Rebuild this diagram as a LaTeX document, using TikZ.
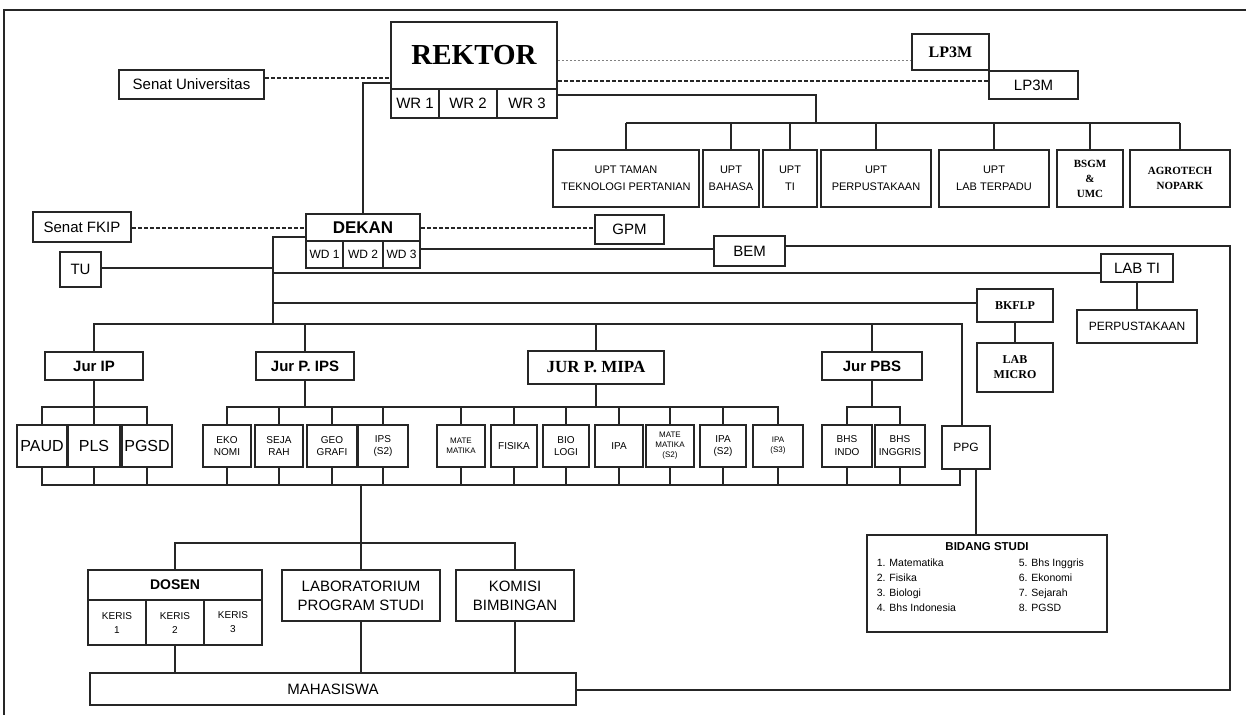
\documentclass[tikz,border=0pt]{standalone}
\usepackage{fontspec}
\setmainfont{Liberation Sans}
\newfontfamily\timesfont{Liberation Serif}
\usetikzlibrary{positioning}
\newcommand{\fsz}[2]{\fontsize{#1}{#2}\selectfont}

\begin{document}
\begin{tikzpicture}[x=1pt,y=-1pt,line width=1.6pt,draw=black!85,
                    box/.style={draw,line width=1.7pt,inner sep=0pt,align=center,font=\fsz{15}{17}},
                    upt/.style={box,minimum height=57pt,font=\fsz{11}{17}},
                    jur/.style={box,minimum height=28pt,font=\bfseries\fsz{15}{17}},
                    sub/.style={box,minimum width=#1,minimum height=42pt,font=\fsz{10}{12}},
                    staff/.style={dash pattern=on 4pt off 2pt,line width=1.6pt}]

  \useasboundingbox (0,0) rectangle (1246,715);
  \draw[line width=1.7pt] (1246,10) -- (4,10) -- (4,715);

  \node[box,minimum width=166pt,minimum height=67pt,font=\timesfont\bfseries\fsz{29}{30}] (rek) at (474,55.5) {REKTOR};
  \node[box,minimum width=48pt,minimum height=29pt] (wr1) at (415,103.5) {WR 1};
  \node[box,minimum width=58pt,minimum height=29pt] (wr2) at (468,103.5) {WR 2};
  \node[box,minimum width=60pt,minimum height=29pt] (wr3) at (527,103.5) {WR 3};
  \node[box,minimum width=145pt,minimum height=29pt] (su) at (191.5,84.5) {Senat Universitas};
  \node[box,minimum width=77pt,minimum height=36pt,font=\timesfont\bfseries\fsz{16}{18}] (lp1) at (950.5,52) {LP3M};
  \node[box,minimum width=89pt,minimum height=28pt] (lp2) at (1033.5,85) {LP3M};

  \node[upt,minimum width=146pt] (u1) at (626,178.5) {UPT TAMAN\\TEKNOLOGI PERTANIAN};
  \node[upt,minimum width=56pt] (u2) at (731,178.5) {UPT\\BAHASA};
  \node[upt,minimum width=54pt] (u3) at (790,178.5) {UPT\\TI};
  \node[upt,minimum width=110pt] (u4) at (876,178.5) {UPT\\PERPUSTAKAAN};
  \node[upt,minimum width=110pt] (u5) at (994,178.5) {UPT\\LAB TERPADU};
  \node[upt,minimum width=66pt,font=\timesfont\bfseries\fsz{11}{15}] (u6) at (1090,178.5) {BSGM\\\&\\UMC};
  \node[upt,minimum width=100pt,font=\timesfont\bfseries\fsz{11}{15}] (u7) at (1180,178.5) {AGROTECH\\NOPARK};

  \node[box,minimum width=114pt,minimum height=27pt,font=\bfseries\fsz{17}{18}] (dek) at (363,227.5) {DEKAN};
  \node[box,minimum width=37pt,minimum height=27pt,font=\fsz{12}{13}] (wd1) at (324.5,254.5) {WD 1};
  \node[box,minimum width=40pt,minimum height=27pt,font=\fsz{12}{13}] (wd2) at (363,254.5) {WD 2};
  \node[box,minimum width=37pt,minimum height=27pt,font=\fsz{12}{13}] (wd3) at (401.5,254.5) {WD 3};
  \node[box,minimum width=98pt,minimum height=30pt] (sf) at (82,227) {Senat FKIP};
  \node[box,minimum width=69pt,minimum height=29pt] (gpm) at (629.5,229.5) {GPM};
  \node[box,minimum width=41pt,minimum height=35pt] (tu) at (80.5,269.5) {TU};
  \node[box,minimum width=71pt,minimum height=30pt] (bem) at (749.5,251) {BEM};
  \node[box,minimum width=72pt,minimum height=28pt] (labti) at (1137,268) {LAB TI};
  \node[box,minimum width=120pt,minimum height=33pt,font=\fsz{12}{14}] (perp) at (1137,326.5) {PERPUSTAKAAN};
  \node[box,minimum width=76pt,minimum height=33pt,font=\timesfont\bfseries\fsz{12}{14}] (bk) at (1015,305.5) {BKFLP};
  \node[box,minimum width=76pt,minimum height=49pt,font=\timesfont\bfseries\fsz{12}{15}] (lm) at (1015,367.5) {LAB\\MICRO};

  \node[jur,minimum width=98pt] (ip) at (94,366) {Jur IP};
  \node[jur,minimum width=98pt] (ips) at (305,366) {Jur P. IPS};
  \node[box,minimum width=136pt,minimum height=33pt,font=\timesfont\bfseries\fsz{17}{19}] (mipa) at (596,367.5) {JUR P. MIPA};
  \node[jur,minimum width=100pt] (pbs) at (872,366) {Jur PBS};

  \node[sub=50pt,font=\fsz{16}{18}] (paud) at (42,446) {PAUD};
  \node[sub=52pt,font=\fsz{16}{18}] (pls) at (94,446) {PLS};
  \node[sub=50pt,font=\fsz{16}{18}] (pgsd) at (147,446) {PGSD};
  \node[sub=48pt] (eko) at (227,446) {EKO\\NOMI};
  \node[sub=48pt] (sej) at (279,446) {SEJA\\RAH};
  \node[sub=50pt] (geo) at (332,446) {GEO\\GRAFI};
  \node[sub=50pt] (ips2) at (383,446) {IPS\\(S2)};
  \node[sub=48pt,font=\fsz{8}{10}] (mat) at (461,446) {MATE\\MATIKA};
  \node[sub=46pt] (fis) at (514,446) {FISIKA};
  \node[sub=46pt] (bio) at (566,446) {BIO\\LOGI};
  \node[sub=48pt] (ipa) at (619,446) {IPA};
  \node[sub=48pt,font=\fsz{8}{10}] (mat2) at (670,446) {MATE\\MATIKA\\(S2)};
  \node[sub=46pt] (ipa2) at (723,446) {IPA\\(S2)};
  \node[sub=50pt,font=\fsz{8}{10}] (ipa3) at (778,446) {IPA\\(S3)};
  \node[sub=50pt,font=\fsz{10}{13}] (bind) at (847,446) {BHS\\INDO};
  \node[sub=50pt,font=\fsz{10}{13}] (bing) at (900,446) {BHS\\INGGRIS};
  \node[box,minimum width=48pt,minimum height=43pt,font=\fsz{12}{14}] (ppg) at (966,447.5) {PPG};

  \node[box,minimum width=174pt,minimum height=30pt,font=\bfseries\fsz{14}{16}] (dos) at (175,585) {DOSEN};
  \node[box,minimum width=58pt,minimum height=45pt,font=\fsz{10}{14}] (ker1) at (117,622.5) {KERIS\\1};
  \node[box,minimum width=58pt,minimum height=45pt,font=\fsz{10}{14}] (ker2) at (175,622.5) {KERIS\\2};
  \node[box,minimum width=58pt,minimum height=45pt,font=\fsz{10}{14}] (ker3) at (233,622.5) {KERIS\\3};
  \node[box,minimum width=158pt,minimum height=51pt,font=\fsz{15}{19}] (lab) at (361,595.5) {LABORATORIUM\\PROGRAM STUDI};
  \node[box,minimum width=118pt,minimum height=51pt,font=\fsz{15}{19}] (kom) at (515,595.5) {KOMISI\\BIMBINGAN};
  \node[box,minimum width=486pt,minimum height=32pt] (mhs) at (333,689) {MAHASISWA};

  \node[box,minimum width=240pt,minimum height=97pt] (bs) at (987,583.5) {};
  \node[font=\bfseries\fsz{11.5}{13},inner sep=0pt] (bst) at (987,547) {BIDANG STUDI};
  \node[anchor=north west,inner sep=0pt,font=\fsz{10.5}{15}] (bsl) at (876,555)
    {\begin{tabular}{@{}p{142pt}@{}l@{}}
      1. Matematika & 5. Bhs Inggris\\
      2. Fisika & 6. Ekonomi\\
      3. Biologi & 7. Sejarah\\
      4. Bhs Indonesia & 8. PGSD
    \end{tabular}};

  \coordinate (ub) at (816,123);
  \coordinate (tr) at (273,324);
  \coordinate (rc) at (1230,690);

  \draw[staff] (su.east |- 0,78) -- (rek.west |- 0,78);
  \draw[dash pattern=on 2pt off 2pt,line width=.8pt,gray] (rek.east |- 0,60) -- (lp1.west |- 0,60);
  \draw[staff] (rek.east |- 0,81) -- (lp2.west |- 0,81);
  \draw (rek.west |- 0,83) -| (dek.north);
  \draw (wr3.east |- 0,95) -| (ub);
  \draw (u1.north |- ub) -- (u7.north |- ub);
  \foreach \u in {u1,u2,u3,u4,u5,u6,u7}
    \draw (\u.north) -- (\u.north |- ub);

  \draw[staff] (sf.east |- 0,228) -- (dek.west |- 0,228);
  \draw[staff] (dek.east |- 0,228) -- (gpm.west |- 0,228);
  \draw (dek.west |- 0,237) -| (tr);
  \draw (tu.east |- 0,268) -- (tr |- 0,268);
  \draw (wd3.east |- 0,249) -- (bem.west |- 0,249);
  \draw (bem.east |- 0,246) -| (rc) -- (mhs.east |- rc);
  \draw (tr |- 0,273) -- (labti.west |- 0,273);
  \draw (labti.south) -- (labti.south |- perp.north);
  \draw (tr |- 0,303) -- (bk.west |- 0,303);
  \draw (bk.south) -- (lm.north);

  \draw (ip.north) |- (tr) -| ([xshift=-4pt]ppg.north);
  \foreach \j in {ips,mipa,pbs}
    \draw (\j.north) -- (\j.north |- tr);
  \foreach \j in {ip,ips,mipa,pbs}
    \draw (\j.south) -- (\j.south |- 0,407);
  \draw (paud.north |- 0,407) -- (pgsd.north |- 0,407);
  \draw (eko.north |- 0,407) -- (ipa3.north |- 0,407);
  \draw (bind.north |- 0,407) -- (bing.north |- 0,407);
  \foreach \s in {paud,pls,pgsd,eko,sej,geo,ips2,mat,fis,bio,ipa,mat2,ipa2,ipa3,bind,bing}
    \draw (\s.north) -- ++(0,-18) (\s.south) -- ++(0,18);
  \draw (paud.south |- 0,485) -| ([xshift=-6pt]ppg.south);
  \draw ([xshift=10pt]ppg.south) -- ++(0,66);

  \draw (lab.north |- 0,485) -- (lab.north);
  \draw (dos.north) |- (lab.north |- 0,543) -| (kom.north);
  \draw (ker2.south) -- (ker2.south |- mhs.north);
  \draw (lab.south) -- (lab.south |- mhs.north);
  \draw (kom.south) -- (kom.south |- mhs.north);
\end{tikzpicture}
\end{document}
